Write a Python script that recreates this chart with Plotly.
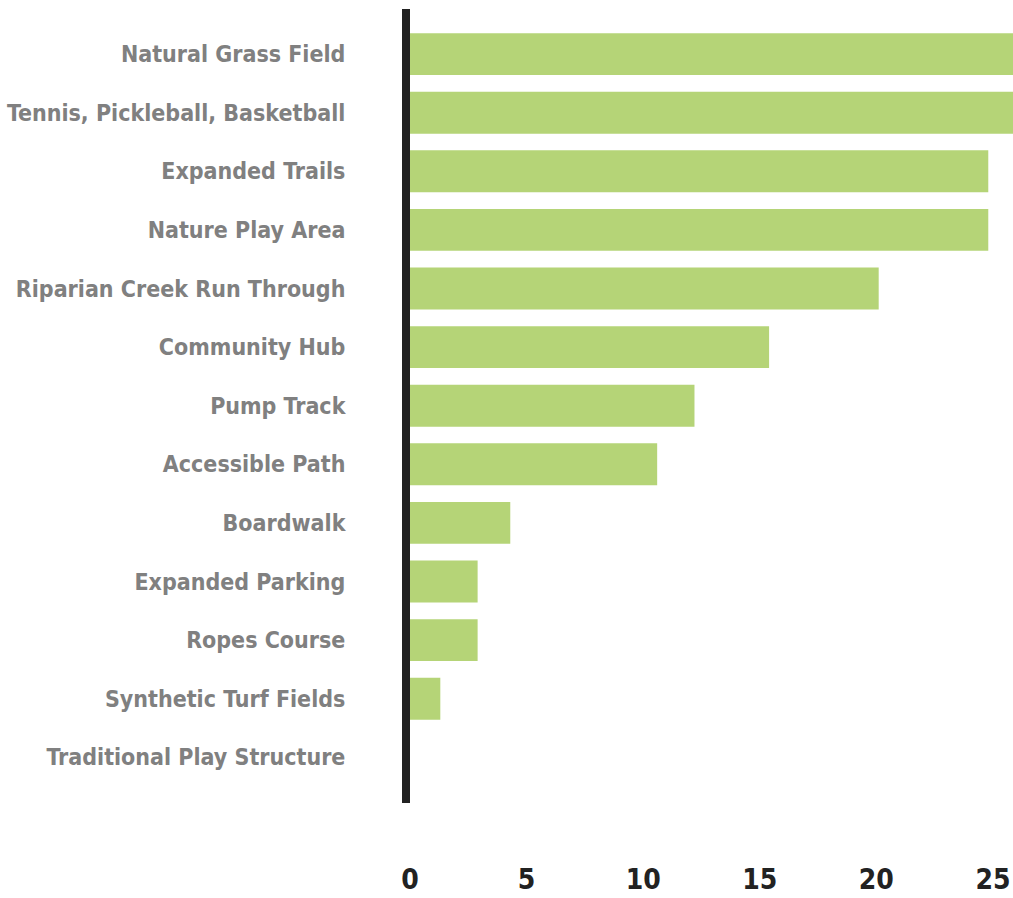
import plotly.graph_objects as go

categories = [
    "Natural Grass Field",
    "Tennis, Pickleball, Basketball",
    "Expanded Trails",
    "Nature Play Area",
    "Riparian Creek Run Through",
    "Community Hub",
    "Pump Track",
    "Accessible Path",
    "Boardwalk",
    "Expanded Parking",
    "Ropes Course",
    "Synthetic Turf Fields",
    "Traditional Play Structure",
]
values = [26.5, 26.5, 24.8, 24.8, 20.1, 15.4, 12.2, 10.6, 4.3, 2.9, 2.9, 1.3, 0]
tick_values = [0, 5, 10, 15, 20, 25]

FONT = "DejaVu Sans Condensed, Liberation Sans Narrow, sans-serif"

fig = go.Figure(
    go.Bar(
        x=values,
        y=categories,
        orientation="h",
        marker=dict(color="#b5d477", line=dict(width=0)),
        width=0.715,
        cliponaxis=True,
    )
)

fig.update_layout(
    width=1013,
    height=898,
    margin=dict(l=410, r=0, t=9, b=95),
    paper_bgcolor="white",
    plot_bgcolor="white",
    showlegend=False,
)

fig.update_xaxes(
    range=[0, 25.86],
    tickvals=tick_values,
    showgrid=False,
    zeroline=False,
    showline=False,
    ticks="",
    automargin=False,
    ticklabelstandoff=57,
    ticklabeloverflow="allow",
    tickfont=dict(family=FONT, size=28, color="#222222", weight="bold"),
)

fig.update_yaxes(
    categoryorder="array",
    categoryarray=categories,
    range=[12.78, -0.77],
    showgrid=False,
    zeroline=False,
    showline=True,
    linewidth=8,
    linecolor="#222222",
    ticks="",
    automargin=False,
    ticklabelstandoff=52,
    tickfont=dict(family=FONT, size=23, color="#808080", weight="bold"),
)

fig.write_html(
    "out.html",
    config={"displayModeBar": False},
    post_script="document.body.style.margin='0';document.body.style.overflow='hidden';",
)
